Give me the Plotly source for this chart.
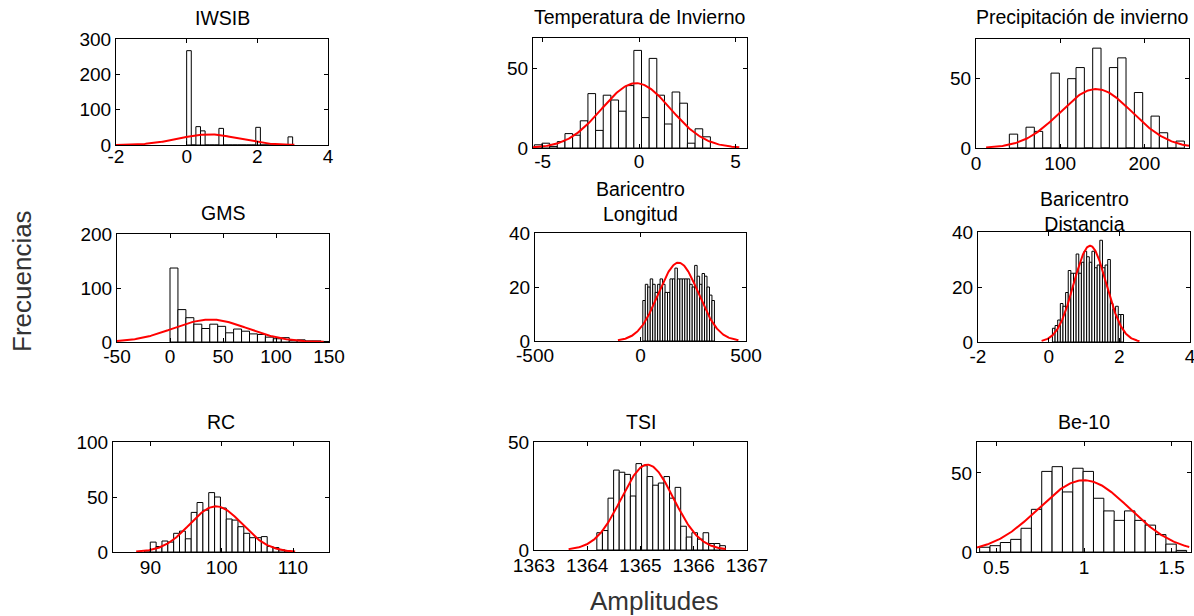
import numpy as np
import plotly.graph_objects as go

W, H = 1194, 616
FONT = "Liberation Sans, Arial, Helvetica, sans-serif"

# ---------------- data ----------------
titles = ["IWSIB", "Temperatura de Invierno", "Precipitación de invierno",
          "GMS", "Baricentro<br>Longitud", "Baricentro<br>Distancia",
          "RC", "TSI", "Be-10"]

# histogram: first bin left edge, bin width, counts
iwsib_edge0, iwsib_width = 0.0, 0.1304
iwsib_counts = [267, 0, 52, 40, 0, 0, 0, 47, 0, 0, 0, 0, 0, 0, 0, 50, 0, 0, 0, 0, 0, 0, 23]

temp_edge0, temp_width = -5.43, 0.397
temp_counts = [2, 3, 1, 4, 9, 8, 17, 34, 11, 33, 30, 23, 39, 61, 19, 56, 33, 15, 35, 28, 3, 12, 7]

prec_edge0, prec_width = 39.6, 9.9
prec_counts = [10, 0, 15, 12, 0, 54, 0, 50, 58, 0, 72, 0, 58, 65, 0, 40, 0, 23, 11, 0, 5]

gms_edge0, gms_width = 0.0, 7.5
gms_counts = [137, 60, 45, 33, 25, 33, 29, 17, 24, 20, 15, 14, 9, 6, 8, 3, 4, 2, 2, 1]

lon_edge0, lon_width = 11.0, 11.7
lon_counts = [15, 21, 20, 23, 21, 18, 21, 23, 21, 18, 18, 23, 23, 27, 23,
              23, 23, 23, 23, 21, 20, 28, 24, 21, 25, 24, 20, 17, 15]

dist_edge0, dist_width = 0.107, 0.0745
dist_counts = [5, 6, 8, 14, 13, 18, 26, 25, 25, 32, 25, 29, 33, 31, 29, 33,
               27, 28, 37, 27, 28, 30, 14, 12, 13, 10, 10]

rc_edge0, rc_width = 89.16, 0.82
rc_counts = [1, 9, 5, 10, 9, 17, 19, 12, 36, 45, 38, 54, 50, 40, 30, 29,
             23, 17, 13, 13, 14, 5, 4, 2, 1]

tsi_edge0, tsi_width = 1364.18, 0.105
tsi_counts = [8, 9, 24, 37, 36, 35, 25, 40, 39, 34, 30, 31, 34, 24, 29,
              11, 6, 8, 5, 8, 3, 3, 2]

be_edge0, be_width = 0.405, 0.059
be_counts = [3, 4, 6, 8, 15, 27, 51, 54, 38, 53, 51, 34, 26, 20, 26, 20, 17, 11, 5, 1]

# fitted normal curve: mean, sigma, peak height, drawn span
fit_mean = [0.62, -0.15, 142.6, 38, 180, 1.17, 99.2, 1365.13, 1.0]
fit_sigma = [0.85, 1.78, 43, 35, 95, 0.46, 3.7, 0.49, 0.26]
fit_peak = [30, 40.5, 42.5, 41.6, 29, 35, 41.5, 39.5, 45.4]
fit_lo = [-2, -5.5, 12, -50, -107, -0.2, 88, 1363.65, 0.39]
fit_hi = [3.05, 5.2, 253, 145, 464, 2.57, 110.3, 1366.6, 1.6]

# axes
x_ranges = [[-2, 4], [-5.5, 5.6], [0, 253], [-50, 150], [-500, 500], [-2, 4],
            [84.75, 115.05], [1363, 1367], [0.39, 1.61]]
y_ranges = [[0, 300], [0, 68.75], [0, 78.6], [0, 200], [0, 40], [0, 40],
            [0, 100], [0, 50], [0, 69.6]]
x_ticks = [[-2, 0, 2, 4], [-5, 0, 5], [0, 100, 200], [-50, 0, 50, 100, 150],
           [-500, 0, 500], [-2, 0, 2, 4], [90, 100, 110],
           [1363, 1364, 1365, 1366, 1367], [0.5, 1, 1.5]]
x_ticktext = [["-2", "0", "2", "4"], ["-5", "0", "5"], ["0", "100", "200"],
              ["-50", "0", "50", "100", "150"], ["-500", "0", "500"],
              ["-2", "0", "2", "4"], ["90", "100", "110"],
              ["1363", "1364", "1365", "1366", "1367"], ["0.5", "1", "1.5"]]
y_ticks = [[0, 100, 200, 300], [0, 50], [0, 50], [0, 100, 200], [0, 20, 40],
           [0, 20, 40], [0, 50, 100], [0, 50], [0, 50]]

hists = [(iwsib_edge0, iwsib_width, iwsib_counts), (temp_edge0, temp_width, temp_counts),
         (prec_edge0, prec_width, prec_counts), (gms_edge0, gms_width, gms_counts),
         (lon_edge0, lon_width, lon_counts), (dist_edge0, dist_width, dist_counts),
         (rc_edge0, rc_width, rc_counts), (tsi_edge0, tsi_width, tsi_counts),
         (be_edge0, be_width, be_counts)]

# ---------------- layout (pixel boxes: left, right, top, bottom) ----------------
boxes = [(116, 328, 39, 145), (533, 747, 38, 148), (976, 1189, 39, 148),
         (117, 329, 234, 342), (535, 746, 233, 341), (978, 1190, 232, 342),
         (113, 329, 442, 552), (534, 747, 442, 550), (977, 1191, 442, 552)]
title_y = [18, 17, 17, 213, 201, 212, 422, 422, 422]
x_label_standoff = [-6, -4, -2, -3, -3, -3, -2, -2, -2]

fig = go.Figure()
layout = dict(width=W, height=H, template="none",
              margin=dict(l=0, r=0, t=0, b=0, pad=0, autoexpand=False),
              paper_bgcolor="white", plot_bgcolor="white", showlegend=False,
              barmode="overlay", font=dict(family=FONT, size=19, color="black"))
annotations = []

for i in range(9):
    k = "" if i == 0 else str(i + 1)
    edge0, width, counts = hists[i]
    centers = [edge0 + width * (j + 0.5) for j in range(len(counts))]
    fig.add_trace(go.Bar(x=centers, y=counts, width=width, xaxis="x" + k, yaxis="y" + k,
                         marker=dict(color="white", line=dict(color="black", width=1))))
    xs = np.linspace(fit_lo[i], fit_hi[i], 200)
    ys = fit_peak[i] * np.exp(-0.5 * ((xs - fit_mean[i]) / fit_sigma[i]) ** 2)
    fig.add_trace(go.Scatter(x=xs, y=ys, mode="lines", xaxis="x" + k, yaxis="y" + k,
                             line=dict(color="#ff0000", width=2)))
    l, r, t, b = boxes[i]
    common = dict(showline=True, linecolor="black", linewidth=1, mirror="allticks",
                  ticks="inside", ticklen=4, tickcolor="black", showgrid=False,
                  zeroline=False, automargin=False, ticklabeloverflow="allow",
                  tickfont=dict(family=FONT, size=19, color="black"))
    layout["xaxis" + k] = dict(domain=[l / W, r / W], range=x_ranges[i],
                               tickvals=x_ticks[i], ticktext=x_ticktext[i],
                               ticklabelstandoff=x_label_standoff[i],
                               anchor="y" + k, **common)
    layout["yaxis" + k] = dict(domain=[1 - b / H, 1 - t / H], range=y_ranges[i],
                               tickvals=y_ticks[i], anchor="x" + k, **common)
    annotations.append(dict(text=titles[i], x=(l + r) / 2 / W, y=1 - title_y[i] / H,
                            xref="paper", yref="paper", showarrow=False,
                            xanchor="center", yanchor="middle",
                            font=dict(family=FONT, size=19.5, color="black")))

annotations.append(dict(text="Frecuencias", x=22 / W, y=1 - 281 / H, xref="paper", yref="paper",
                        showarrow=False, textangle=-90, xanchor="center", yanchor="middle",
                        font=dict(family=FONT, size=26, color="#333333")))
annotations.append(dict(text="Amplitudes", x=654 / W, y=1 - 601 / H, xref="paper", yref="paper",
                        showarrow=False, xanchor="center", yanchor="middle",
                        font=dict(family=FONT, size=26, color="#333333")))
layout["annotations"] = annotations
fig.update_layout(**layout)
fig.write_html("out.html")
